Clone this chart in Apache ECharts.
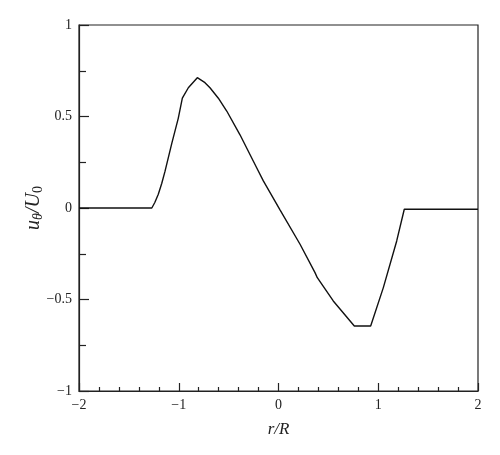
<!DOCTYPE html>
<html>
<head>
<meta charset="utf-8">
<script src="https://cdn.jsdelivr.net/npm/echarts@6/dist/echarts.min.js"></script>
<style>html,body{margin:0;padding:0;background:#fff}#c{width:500px;height:455px}</style>
</head>
<body>
<div id="c"></div>
<script>
var rValues = [-2, -1.27, -1.24, -1.205, -1.17, -1.138, -1.071, -1.005, -0.964, -0.904, -0.814, -0.737, -0.687, -0.603, -0.519, -0.386, -0.219, -0.152, 0.015, 0.216, 0.366, 0.389, 0.549, 0.76, 0.924, 1.051, 1.185, 1.261, 2];
var uValues = [0, 0, 0.03, 0.075, 0.135, 0.2, 0.35, 0.49, 0.6, 0.657, 0.712, 0.685, 0.657, 0.6, 0.53, 0.4, 0.22, 0.148, -0.01, -0.198, -0.353, -0.381, -0.508, -0.645, -0.645, -0.435, -0.18, -0.007, -0.007];
var xTicks = [-2, -1, 0, 1, 2];
var yTicks = [-1, -0.5, 0, 0.5, 1];

var data = rValues.map(function (r, i) { return [r, uValues[i]]; });
var fmt = function (v) { return String(v).replace('-', '\u2212'); };
var font = 'Liberation Serif';
var chart = echarts.init(document.getElementById('c'));
chart.setOption({
  animation: false,
  grid: { left: 79, right: 22, top: 25, bottom: 64, show: true, borderColor: '#222', borderWidth: 1.2 },
  xAxis: {
    type: 'value', min: xTicks[0], max: xTicks[xTicks.length - 1], interval: 1,
    axisLine: { onZero: false, lineStyle: { color: '#222', width: 1.2 } },
    axisTick: { inside: true, length: 8, lineStyle: { color: '#222', width: 1.2 } },
    minorTick: { show: true, splitNumber: 5, length: 4, lineStyle: { color: '#222', width: 1.2 } },
    splitLine: { show: false },
    axisLabel: { formatter: fmt, fontFamily: font, fontSize: 14, color: '#222', margin: 7 },
    name: '{i|r/R}', nameLocation: 'middle', nameGap: 30, nameMoveOverlap: false,
    nameTextStyle: { rich: { i: { fontFamily: font, fontStyle: 'italic', fontSize: 17, color: '#222' } } }
  },
  yAxis: {
    type: 'value', min: yTicks[0], max: yTicks[yTicks.length - 1], interval: 0.5,
    axisLine: { onZero: false, lineStyle: { color: '#222', width: 1.2 } },
    axisTick: { inside: true, length: 10, lineStyle: { color: '#222', width: 1.2 } },
    minorTick: { show: true, splitNumber: 2, length: 7, lineStyle: { color: '#222', width: 1.2 } },
    splitLine: { show: false },
    axisLabel: { formatter: fmt, fontFamily: font, fontSize: 14, color: '#222', margin: 7 },
    name: '{i|u}{s|\u03b8}{i|/U}{n|0}', nameLocation: 'middle', nameGap: 32, nameRotate: 90, nameMoveOverlap: false,
    nameTextStyle: {
      rich: {
        i: { fontFamily: font, fontStyle: 'italic', fontSize: 20, color: '#222', lineHeight: 26 },
        s: { fontFamily: font, fontStyle: 'italic', fontSize: 14, color: '#222', padding: [9, 0, 0, 0] },
        n: { fontFamily: font, fontSize: 14, color: '#222', padding: [9, 0, 0, 0] }
      }
    }
  },
  series: [{
    type: 'line', data: data, showSymbol: false, smooth: false,
    lineStyle: { color: '#111', width: 1.4 }
  }]
});
</script>
</body>
</html>
